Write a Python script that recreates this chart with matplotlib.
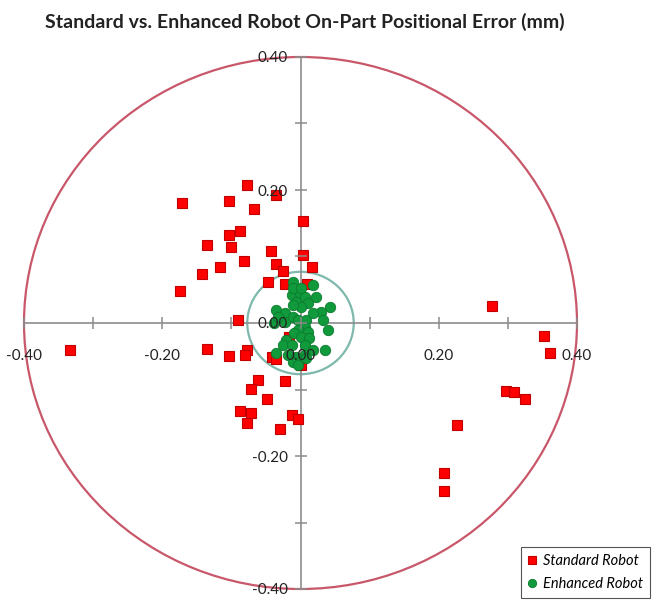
import matplotlib
matplotlib.use("Agg")

import matplotlib.pyplot as plt
from matplotlib.patches import Circle
from matplotlib.ticker import MultipleLocator, FixedLocator

plt.rcParams["font.family"] = ["Lato", "DejaVu Sans"]

# standard robot on-part error (mm)
std_x = [-0.078, -0.036, -0.172, -0.104, -0.067, 0.003, -0.088, -0.103, -0.135, -0.100,
         -0.043, 0.004, -0.082, -0.036, 0.016, -0.116, -0.025, -0.143, -0.047, -0.023,
         0.009, -0.175, -0.090, -0.333, -0.135, -0.103, -0.078, -0.081, -0.041, -0.035,
         0.001, -0.016, -0.061, -0.071, -0.022, -0.048, -0.088, -0.071, -0.077, -0.012,
         -0.004, -0.029, 0.277, 0.352, 0.361, 0.297, 0.309, 0.325, 0.226, 0.207, 0.207]
std_y = [0.208, 0.193, 0.180, 0.184, 0.171, 0.154, 0.138, 0.132, 0.117, 0.114,
         0.109, 0.102, 0.093, 0.088, 0.084, 0.084, 0.078, 0.073, 0.061, 0.059,
         0.059, 0.048, 0.005, -0.041, -0.039, -0.050, -0.040, -0.048, -0.051, -0.054,
         -0.063, -0.021, -0.085, -0.099, -0.087, -0.114, -0.132, -0.136, -0.150, -0.138,
         -0.145, -0.160, 0.025, -0.020, -0.045, -0.102, -0.104, -0.114, -0.154, -0.226, -0.252]

# enhanced robot on-part error (mm)
enh_x = [-0.011, 0.018, -0.013, -0.001, 0.006, -0.006, 0.011, 0.001, -0.011, 0.023,
         0.042, 0.030, 0.032, -0.035, -0.023, -0.038, -0.023, -0.011, -0.004, 0.008,
         0.006, -0.004, 0.011, 0.040, -0.009, -0.021, -0.026, -0.013, 0.001, 0.013,
         0.006, 0.035, -0.035, -0.018, -0.006, 0.006, -0.011, 0.008, -0.004, 0.018,
         -0.011, 0.001, -0.033, 0.018]
enh_y = [0.062, 0.057, 0.042, 0.045, 0.039, 0.032, 0.030, 0.024, 0.027, 0.039,
         0.024, 0.017, 0.004, 0.019, 0.015, 0.000, 0.002, 0.009, 0.004, 0.004,
         -0.006, -0.010, -0.013, -0.010, -0.015, -0.025, -0.033, -0.033, -0.021, -0.023,
         -0.033, -0.040, -0.045, -0.048, -0.051, -0.048, -0.058, -0.053, -0.063, -0.040,
         0.052, 0.052, 0.009, 0.015]

outer_r = 0.40
inner_r = 0.077

fig = plt.figure(figsize=(6.57, 6.02), dpi=100)
ax = fig.add_axes([24 / 657, 1 - 589 / 602, 553 / 657, 532 / 602])

ax.set_xlim(-0.4, 0.4)
ax.set_ylim(-0.4, 0.4)

for side in ["top", "right"]:
    ax.spines[side].set_visible(False)
for side in ["left", "bottom"]:
    ax.spines[side].set_position(("data", 0))
    ax.spines[side].set_color("#8c8c8c")
    ax.spines[side].set_linewidth(1.2)
    ax.spines[side].set_zorder(2)

ax.xaxis.set_major_locator(FixedLocator([-0.4, -0.2, 0.0, 0.2, 0.4]))
ax.yaxis.set_major_locator(FixedLocator([-0.4, -0.2, 0.0, 0.2, 0.4]))
ax.xaxis.set_minor_locator(MultipleLocator(0.1))
ax.yaxis.set_minor_locator(MultipleLocator(0.1))
ax.xaxis.set_major_formatter(lambda v, p: f"{v:.2f}")
ax.yaxis.set_major_formatter(lambda v, p: f"{v:.2f}")
ax.tick_params(which="both", direction="inout", length=8, width=1.1, color="#8c8c8c",
               labelsize=11, labelcolor="#222222")
ax.tick_params(axis="x", which="major", pad=15)
ax.tick_params(axis="y", which="major", pad=5)
# labels sit over the markers, as in the source chart
ax.xaxis.set_zorder(6)
ax.yaxis.set_zorder(6)

ax.add_patch(Circle((0, 0), outer_r, fill=False, edgecolor="#c9576a", linewidth=1.6,
                    clip_on=False, zorder=1))
ax.add_patch(Circle((0, 0), inner_r, fill=False, edgecolor="#7fb8ac", linewidth=1.6,
                    clip_on=False, zorder=1))

ax.plot(std_x, std_y, linestyle="none", marker="s", markersize=7,
        markerfacecolor="#ff0000", markeredgecolor="#c00000", markeredgewidth=0.8,
        label="Standard Robot", zorder=3, clip_on=False)
ax.plot(enh_x, enh_y, linestyle="none", marker="o", markersize=7.5,
        markerfacecolor="#109a3c", markeredgecolor="#0b7a2e", markeredgewidth=0.6,
        label="Enhanced Robot", zorder=4, clip_on=False)

fig.text(305 / 657, 1 - 22 / 602, "Standard vs. Enhanced Robot On-Part Positional Error (mm)",
         ha="center", va="center", fontsize=14, fontweight="bold", color="#222222")

leg = fig.legend(loc="lower right", bbox_to_anchor=(650 / 657, 4 / 602),
                 fancybox=False, framealpha=1, edgecolor="#555555",
                 prop={"style": "italic", "size": 10.5},
                 handlelength=0.6, handletextpad=0.4, borderpad=0.5,
                 labelspacing=0.6, markerscale=0.8, borderaxespad=0)
leg.get_frame().set_linewidth(0.8)

plt.savefig("out.png", dpi=100)
plt.close()
